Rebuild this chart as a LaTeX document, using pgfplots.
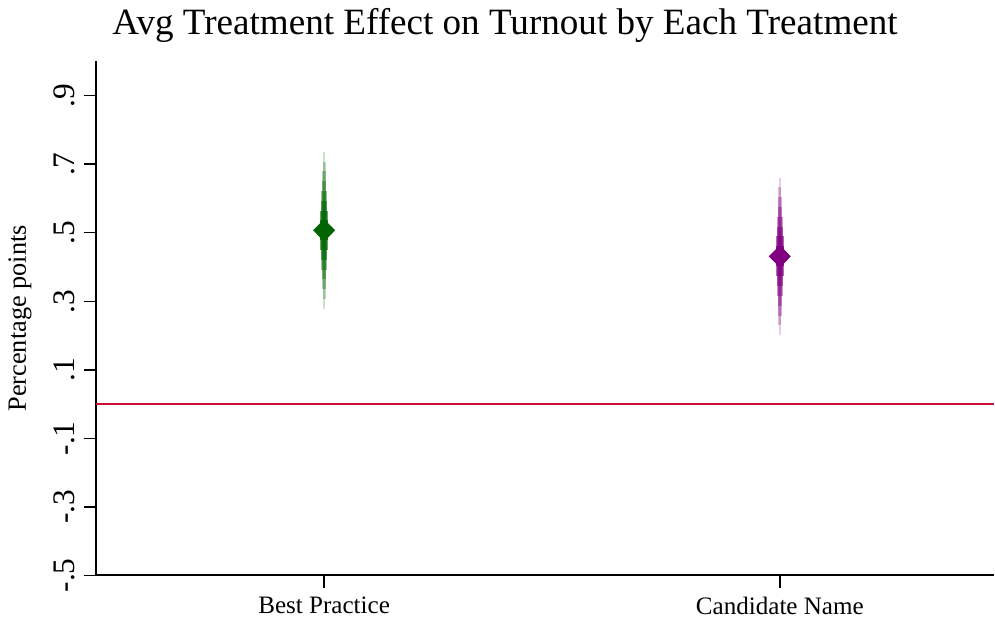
\documentclass[border=0pt]{standalone}
\usepackage{pgfplots}
\pgfplotsset{compat=1.18}
\usepackage{fontspec}
\setmainfont{Liberation Serif}
\definecolor{dgreen}{RGB}{0,100,0}
\definecolor{dpurple}{RGB}{128,0,128}
\definecolor{zline}{RGB}{200,16,56}
\pgfplotsset{
  spg/.style n args={3}{draw=none, mark=none, forget plot, error bars/.cd, y dir=both, y explicit, error mark=none, error bar style={#1, opacity=#2, line width=#3}},
}
\begin{document}
\begin{tikzpicture}
\begin{axis}[
  scale only axis,
  width=358pt, height=205pt,
  xmin=0.5, xmax=2.47,
  ymin=-0.5, ymax=1.0,
  axis lines=left,
  axis line style={-, line width=0.8pt},
  xtick={1,2},
  xticklabels={Best Practice, Candidate Name},
  ytick={-0.5,-0.3,-0.1,0.1,0.3,0.5,0.7,0.9},
  yticklabels={-.5,-.3,-.1,.1,.3,.5,.7,.9},
  tick style={black, line width=0.6pt},
  tick align=outside,
  major tick length=5pt,
  yticklabel style={rotate=90, anchor=south, font=\fontsize{12.5}{14}\selectfont},
  xticklabel style={font=\fontsize{10}{12}\selectfont},
  ylabel={Percentage points},
  ylabel style={font=\fontsize{10.5}{12}\selectfont, yshift=2pt},
  title={Avg Treatment Effect on Turnout by Each Treatment},
  title style={font=\fontsize{14.8}{16}\selectfont, yshift=-2pt, xshift=-16pt},
  clip=false,
]
\addplot[zline, line width=0.8pt, forget plot] coordinates {(0.5,0) (2.47,0)};
% spindle layers: Best Practice
\addplot[spg={dgreen}{0.2}{0.8pt}] coordinates {(1,0.507) +- (0,0.229)};
\addplot[spg={dgreen}{0.25}{1.1pt}] coordinates {(1,0.507) +- (0,0.200)};
\addplot[spg={dgreen}{0.3}{1.4pt}] coordinates {(1,0.507) +- (0,0.172)};
\addplot[spg={dgreen}{0.35}{1.8pt}] coordinates {(1,0.507) +- (0,0.143)};
\addplot[spg={dgreen}{0.4}{2.2pt}] coordinates {(1,0.507) +- (0,0.115)};
\addplot[spg={dgreen}{0.5}{2.6pt}] coordinates {(1,0.507) +- (0,0.086)};
\addplot[spg={dgreen}{0.6}{3.0pt}] coordinates {(1,0.507) +- (0,0.057)};
\addplot[spg={dgreen}{0.8}{3.4pt}] coordinates {(1,0.507) +- (0,0.029)};
\addplot[only marks, mark=diamond*, mark size=4.2pt, mark options={fill=dgreen, draw=dgreen, xscale=1.3}] coordinates {(1,0.507)};
% Candidate Name
\addplot[spg={dpurple}{0.2}{0.8pt}] coordinates {(2,0.431) +- (0,0.230)};
\addplot[spg={dpurple}{0.25}{1.1pt}] coordinates {(2,0.431) +- (0,0.201)};
\addplot[spg={dpurple}{0.3}{1.4pt}] coordinates {(2,0.431) +- (0,0.173)};
\addplot[spg={dpurple}{0.35}{1.8pt}] coordinates {(2,0.431) +- (0,0.144)};
\addplot[spg={dpurple}{0.4}{2.2pt}] coordinates {(2,0.431) +- (0,0.115)};
\addplot[spg={dpurple}{0.5}{2.6pt}] coordinates {(2,0.431) +- (0,0.086)};
\addplot[spg={dpurple}{0.6}{3.0pt}] coordinates {(2,0.431) +- (0,0.058)};
\addplot[spg={dpurple}{0.8}{3.4pt}] coordinates {(2,0.431) +- (0,0.029)};
\addplot[only marks, mark=diamond*, mark size=4.2pt, mark options={fill=dpurple, draw=dpurple, xscale=1.3}] coordinates {(2,0.431)};
\end{axis}
\end{tikzpicture}
\end{document}
